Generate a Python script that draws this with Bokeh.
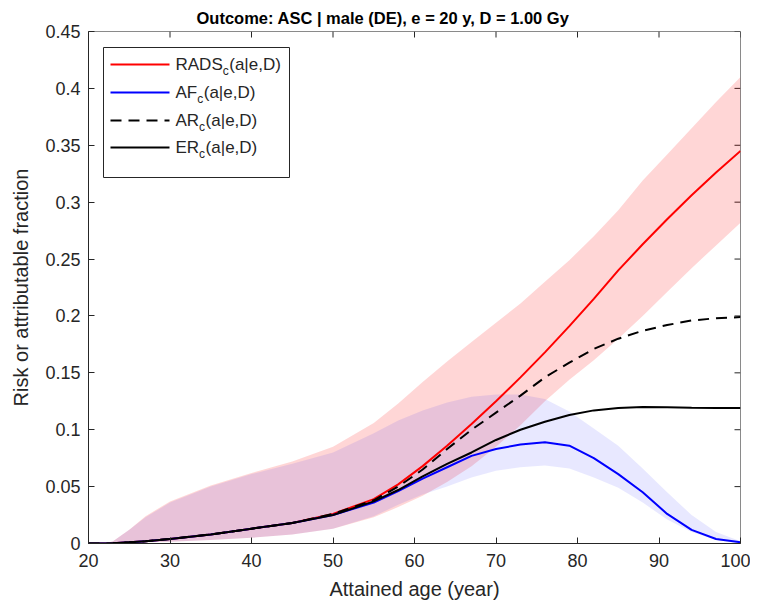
from bokeh.plotting import figure
from bokeh.models import Range1d, FixedTicker
from bokeh.core.properties import value
from bokeh.embed import file_html
from bokeh.resources import INLINE

# ---------------- data ----------------
ages = [20, 22, 23, 25, 27, 30, 35, 40, 45, 50, 55, 58, 61, 64, 67, 70, 73, 76,
        79, 82, 85, 88, 91, 94, 97, 100]
rads = [0, 0, 0.0003, 0.001, 0.002, 0.004, 0.008, 0.013, 0.018, 0.026, 0.039, 0.052,
        0.068, 0.086, 0.105, 0.125, 0.146, 0.168, 0.191, 0.215, 0.240, 0.263, 0.285,
        0.306, 0.326, 0.345]
rads_lo = [0, 0, 0, 0.0005, 0.001, 0.0015, 0.003, 0.005, 0.008, 0.013, 0.023, 0.032,
           0.042, 0.054, 0.068, 0.085, 0.104, 0.125, 0.144, 0.161, 0.180, 0.200, 0.221,
           0.242, 0.262, 0.282]
rads_hi = [0, 0, 0.002, 0.012, 0.024, 0.037, 0.051, 0.062, 0.072, 0.085, 0.106, 0.123,
           0.142, 0.160, 0.177, 0.194, 0.211, 0.230, 0.249, 0.270, 0.293, 0.319, 0.342,
           0.365, 0.388, 0.410]
af = [0, 0, 0.0003, 0.001, 0.002, 0.004, 0.008, 0.013, 0.018, 0.025, 0.036, 0.046,
      0.057, 0.067, 0.077, 0.083, 0.087, 0.089, 0.086, 0.075, 0.061, 0.045, 0.026,
      0.012, 0.004, 0.001]
af_lo = [0, 0, 0, 0.0005, 0.001, 0.0015, 0.003, 0.005, 0.008, 0.013, 0.024, 0.034,
         0.043, 0.050, 0.058, 0.064, 0.067, 0.0685, 0.066, 0.058, 0.049, 0.036, 0.021,
         0.010, 0.003, 0]
af_hi = [0, 0, 0.002, 0.012, 0.023, 0.036, 0.050, 0.061, 0.070, 0.080, 0.097, 0.108,
         0.117, 0.124, 0.129, 0.131, 0.131, 0.127, 0.116, 0.101, 0.086, 0.066, 0.045,
         0.025, 0.010, 0.002]
ar = [0, 0, 0.0003, 0.001, 0.002, 0.004, 0.008, 0.013, 0.018, 0.026, 0.038, 0.050,
      0.065, 0.083, 0.100, 0.115, 0.130, 0.146, 0.159, 0.171, 0.180, 0.187, 0.192,
      0.196, 0.198, 0.199]
er = [0, 0, 0.0003, 0.001, 0.002, 0.004, 0.008, 0.013, 0.018, 0.025, 0.037, 0.047,
      0.059, 0.070, 0.080, 0.091, 0.100, 0.107, 0.113, 0.117, 0.119, 0.120, 0.1198,
      0.1193, 0.119, 0.119]

x_ticks = [20, 30, 40, 50, 60, 70, 80, 90, 100]
x_tick_labels = ["20", "30", "40", "50", "60", "70", "80", "90", "100"]
y_ticks = [0, 0.05, 0.1, 0.15, 0.2, 0.25, 0.3, 0.35, 0.4, 0.45]
y_tick_labels = ["0", "0.05", "0.1", "0.15", "0.2", "0.25", "0.3", "0.35", "0.4", "0.45"]

title_text = "Outcome: ASC | male (DE), e = 20 y, D = 1.00 Gy"
x_label = "Attained age (year)"
y_label = "Risk or attributable fraction"
legend_main = ["RADS", "AF", "AR", "ER"]
legend_sub = "c"
legend_tail = "(a|e,D)"

# ---------------- layout ----------------
W, H = 750, 606
FL, FT, FR, FB = 88, 31, 740, 543
X0, X1, Y0, Y1 = 20, 100, 0, 0.45
PX_X = (FR - FL) / (X1 - X0)
PX_Y = (FB - FT) / (Y1 - Y0)


def dx(px):  # canvas pixel -> data x
    return X0 + (px - FL) / PX_X


def dy(py):  # canvas pixel -> data y
    return Y1 - (py - FT) / PX_Y


AXC = "#262626"
FONT = "Liberation Sans"
TICK = 6

p = figure(width=W, height=H, output_backend="svg", toolbar_location=None,
           x_range=Range1d(X0, X1), y_range=Range1d(Y0, Y1),
           min_border_left=FL, min_border_right=W - FR,
           min_border_top=FT, min_border_bottom=H - FB)
p.grid.visible = False
p.outline_line_color = "#8a8a8a"
p.outline_line_width = 1
p.background_fill_color = "white"
p.border_fill_color = "white"

p.title.text = title_text
p.title.align = "left"
p.title.offset = 108
p.title.text_font = FONT
p.title.text_font_size = "16.5px"
p.title.text_font_style = "bold"
p.title.text_color = "black"
p.title.standoff = 9

xa = p.xaxis[0]
ya = p.yaxis[0]
for ax, ticks, labels in ((xa, x_ticks, x_tick_labels), (ya, y_ticks, y_tick_labels)):
    ax.ticker = FixedTicker(ticks=ticks)
    ax.major_label_overrides = {t: l for t, l in zip(ticks, labels)}
    ax.major_tick_in = TICK
    ax.major_tick_out = 0
    ax.minor_tick_line_color = None
    ax.axis_line_color = AXC
    ax.major_tick_line_color = AXC
    ax.major_label_text_font = FONT
    ax.major_label_text_font_size = "18px"
    ax.major_label_text_color = AXC
    ax.axis_label_text_font = FONT
    ax.axis_label_text_font_size = "20px"
    ax.axis_label_text_font_style = "normal"
    ax.axis_label_text_color = AXC
xa.axis_label = x_label
ya.axis_label = y_label
xa.major_label_standoff = 10
ya.major_label_standoff = 8
xa.axis_label_standoff = 8
ya.axis_label_standoff = 10

# inward ticks on the top and right edges of the box
p.segment(x0=x_ticks, x1=x_ticks, y0=[Y1] * len(x_ticks),
          y1=[Y1 - TICK / PX_Y] * len(x_ticks), line_color=AXC, line_width=1)
p.segment(x0=[X1] * len(y_ticks), x1=[X1 - TICK / PX_X] * len(y_ticks),
          y0=y_ticks, y1=y_ticks, line_color=AXC, line_width=1)

# ---------------- bands and curves ----------------
p.varea(x=ages, y1=rads_lo, y2=rads_hi, fill_color="#ff0000", fill_alpha=0.16)
p.varea(x=ages, y1=af_lo, y2=af_hi, fill_color="#0000ff", fill_alpha=0.09)

p.line(ages, rads, line_color="#ff0000", line_width=2)
p.line(ages, af, line_color="#0000ff", line_width=2)
p.line(ages, ar, line_color="black", line_width=2, line_dash="11 7")
p.line(ages, er, line_color="black", line_width=2)

# ---------------- legend (drawn manually to allow subscripts) ----------------
p.quad(left=[dx(103)], right=[dx(289)], top=[dy(47)], bottom=[dy(177)],
       fill_color="white", line_color=AXC, line_width=1)

CW = {"R": .722, "A": .667, "D": .722, "S": .667, "F": .611, "E": .667,
      "c": .5}


def tw(s, size):
    return sum(CW.get(ch, .556) for ch in s) * size


rows_py = [64, 92, 120, 147]
styles = [("#ff0000", None), ("#0000ff", None), ("black", "11 7"), ("black", None)]
for py, (col, dash), main in zip(rows_py, styles, legend_main):
    kw = dict(line_color=col, line_width=2)
    if dash:
        kw["line_dash"] = dash
    p.line([dx(110), dx(169)], [dy(py), dy(py)], **kw)
    x_main = 175
    p.text(x=[dx(x_main)], y=[dy(py)], text=[main], text_font=value(FONT),
           text_font_size="17px", text_baseline="middle", text_color=AXC)
    x_sub = x_main + tw(main, 17)
    p.text(x=[dx(x_sub)], y=[dy(py + 6)], text=[legend_sub], text_font=value(FONT),
           text_font_size="12px", text_baseline="middle", text_color=AXC)
    x_tail = x_sub + tw(legend_sub, 12) + 0.5
    p.text(x=[dx(x_tail)], y=[dy(py)], text=[legend_tail], text_font=value(FONT),
           text_font_size="17px", text_baseline="middle", text_color=AXC)

open("out.html", "w").write(file_html(p, INLINE))
